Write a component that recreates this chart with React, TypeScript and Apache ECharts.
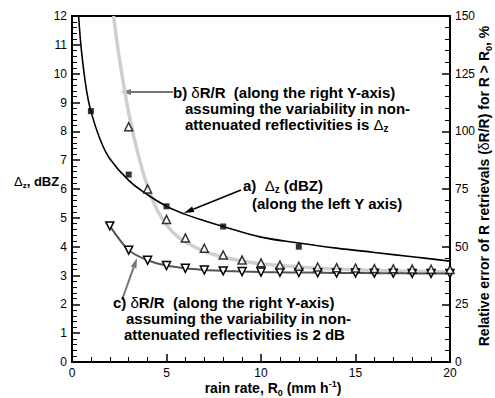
import React, { useEffect, useRef } from "react";
import * as echarts from "echarts";

// a) Δz curve (left axis, dBZ)
const aCurveX = [0.35, 0.5, 0.75, 1, 1.5, 2, 3, 4, 5, 6, 7, 8, 10, 12, 14, 16, 18, 20];
const aCurveY = [12, 10.8, 9.5, 8.7, 7.7, 7.05, 6.3, 5.8, 5.4, 5.12, 4.9, 4.7, 4.33, 4.13, 3.95, 3.8, 3.65, 3.5];
// a) markers
const aMarkX = [1, 3, 5, 8, 12];
const aMarkY = [8.7, 6.5, 5.4, 4.7, 4.0];
// b) δR/R, variability Δz (right axis, %)
const bCurveX = [2.2, 2.5, 3, 3.5, 4, 4.5, 5, 5.5, 6, 7, 8, 9, 10, 11, 12, 14, 16, 18, 20];
const bCurveY = [150, 132, 108, 90, 76, 66, 59.5, 55, 52, 48, 45.5, 43.8, 42.6, 41.8, 41.2, 40.3, 39.7, 39.3, 39];
const bMarkX = [3, 4, 5, 6, 7, 8, 9, 10, 11, 12, 13, 14, 15, 16, 17, 18, 19, 20];
const bMarkY = [102, 75, 61.8, 53.8, 49.3, 46.4, 44.2, 43, 42, 41.5, 41.2, 40.9, 40.7, 40.5, 40.4, 40.3, 40.2, 40.1];
// c) δR/R, variability 2 dB (right axis, %)
const cX = [2, 3, 4, 5, 6, 7, 8, 9, 10, 11, 12, 13, 14, 15, 16, 17, 18, 19, 20];
const cY = [59, 48.5, 44.1, 41.8, 40.6, 39.9, 39.5, 39.2, 39.0, 38.9, 38.8, 38.7, 38.6, 38.6, 38.5, 38.5, 38.4, 38.4, 38.4];

const FONT = "'Liberation Sans', Arial, Helvetica, sans-serif";

const zip = (xs: number[], ys: number[]) => xs.map((x, i) => [x, ys[i]]);

function arrow(x1: number, y1: number, x2: number, y2: number, color: string, w: number, hl: number, hw: number) {
  const dx = x2 - x1, dy = y2 - y1;
  const L = Math.hypot(dx, dy);
  const ux = dx / L, uy = dy / L;
  const bx = x2 - ux * hl, by = y2 - uy * hl;
  const px = -uy, py = ux;
  return [
    { type: "line", shape: { x1, y1, x2: bx, y2: by }, style: { stroke: color, lineWidth: w } },
    {
      type: "polygon",
      shape: { points: [[x2, y2], [bx + (px * hw) / 2, by + (py * hw) / 2], [bx - (px * hw) / 2, by - (py * hw) / 2]] },
      style: { fill: color },
    },
  ];
}

const annRich = (fs: number) => ({
  n: { fontFamily: FONT, fontWeight: "bold", fontSize: fs, lineHeight: fs, fill: "#000", verticalAlign: "middle" },
  d: { fontFamily: FONT, fontWeight: "normal", fontSize: fs, lineHeight: fs, fill: "#000", verticalAlign: "middle" },
  s: { fontFamily: FONT, fontWeight: "bold", fontSize: Math.round(fs * 0.65), lineHeight: fs + 4, fill: "#000", verticalAlign: "bottom" },
  p: { fontFamily: FONT, fontWeight: "bold", fontSize: Math.round(fs * 0.65), lineHeight: fs + 4, fill: "#000", verticalAlign: "top" },
});

function txt(text: string, x: number, y: number, fs: number, extra: any = {}) {
  return {
    type: "text",
    x,
    y,
    ...extra,
    style: { text, rich: annRich(fs), align: extra.align || "left", verticalAlign: "middle", fill: "#000" },
  };
}

export default function App() {
  const ref = useRef<HTMLDivElement>(null);
  useEffect(() => {
    if (!ref.current) return;
    const chart = echarts.init(ref.current, null, { renderer: "svg" });
    const axisCommon = {
      axisLine: { show: true, lineStyle: { color: "#000", width: 2 } },
      axisTick: { show: true, inside: true, length: 8, lineStyle: { color: "#000", width: 1.5 } },
      minorTick: { show: true, splitNumber: 5, length: 5, lineStyle: { color: "#000", width: 1 } },
      splitLine: { show: false },
      axisLabel: { color: "#000", fontSize: 12, fontFamily: FONT },
    };
    const FS = 15;
    chart.setOption({
      animation: false,
      grid: { left: 72, right: 45, top: 16, bottom: 36, show: true, borderColor: "#000", borderWidth: 2, backgroundColor: "transparent" },
      xAxis: { type: "value", min: 0, max: 20, interval: 5, ...axisCommon, axisLabel: { ...axisCommon.axisLabel, margin: 5 } },
      yAxis: [
        { type: "value", min: 0, max: 12, interval: 1, position: "left", ...axisCommon, axisLabel: { ...axisCommon.axisLabel, margin: 5 } },
        { type: "value", min: 0, max: 150, interval: 25, position: "right", ...axisCommon, axisLabel: { ...axisCommon.axisLabel, margin: 5 } },
      ],
      series: [
        { type: "line", yAxisIndex: 0, data: zip(aCurveX, aCurveY), smooth: 0.4, showSymbol: false, lineStyle: { color: "#000", width: 1.6 }, z: 2 },
        { type: "line", yAxisIndex: 1, data: zip(bCurveX, bCurveY), smooth: 0.4, showSymbol: false, lineStyle: { color: "#cfcfcf", width: 3.5 }, z: 1 },
        {
          type: "line", yAxisIndex: 1, data: zip(cX, cY), smooth: 0.3, symbol: "triangle", symbolRotate: 180, symbolSize: 8,
          lineStyle: { color: "#555", width: 2 }, itemStyle: { color: "#fff", borderColor: "#000", borderWidth: 1.5 }, z: 3,
        },
        { type: "scatter", yAxisIndex: 0, data: zip(aMarkX, aMarkY), symbol: "rect", symbolSize: 6, itemStyle: { color: "#000" }, z: 4 },
        {
          type: "scatter", yAxisIndex: 1, data: zip(bMarkX, bMarkY), symbol: "triangle", symbolSize: 8,
          itemStyle: { color: "#fff", borderColor: "#000", borderWidth: 1.5 }, z: 4,
        },
      ],
      graphic: [
        ...arrow(173, 92, 121, 92, "#777", 2, 10, 6),
        ...arrow(241, 190, 184, 213, "#000", 1.5, 10, 6),
        ...arrow(122, 300, 137, 258, "#777", 2, 10, 6),
        txt("{n|b) }{d|δ}{n|R/R  (along the right Y-axis)}", 173, 92, FS),
        txt("{n|assuming the variability in non-}", 185, 108, FS),
        txt("{n|attenuated reflectivities is }{d|Δ}{s|z}", 185, 124, FS),
        txt("{n|a)  }{d|Δ}{s|z}{n| (dBZ)}", 243, 185, FS),
        txt("{n|(along the left Y axis)}", 252, 203, FS),
        txt("{n|c) }{d|δ}{n|R/R  (along the right Y-axis)}", 113, 302, FS),
        txt("{n|assuming the variability in non-}", 126, 318, FS),
        txt("{n|attenuated reflectivities is 2 dB}", 124, 334, FS),
        txt("{d|Δ}{s|z}{n|, dBZ}", 14, 181, 13),
        txt("{n|rain rate, R}{s|0}{n| (mm h}{p|-1}{n|)}", 273, 388, 14, { align: "center" }),
        txt("{n|Relative error of R retrievals (}{d|δ}{n|R/R) for R > R}{s|0}{n|, %}", 484, 186, 14, { align: "center", rotation: Math.PI / 2 }),
      ],
    });
    return () => chart.dispose();
  }, []);
  return <div ref={ref} style={{ position: "absolute", left: 0, top: 0, width: 495, height: 398 }} />;
}
